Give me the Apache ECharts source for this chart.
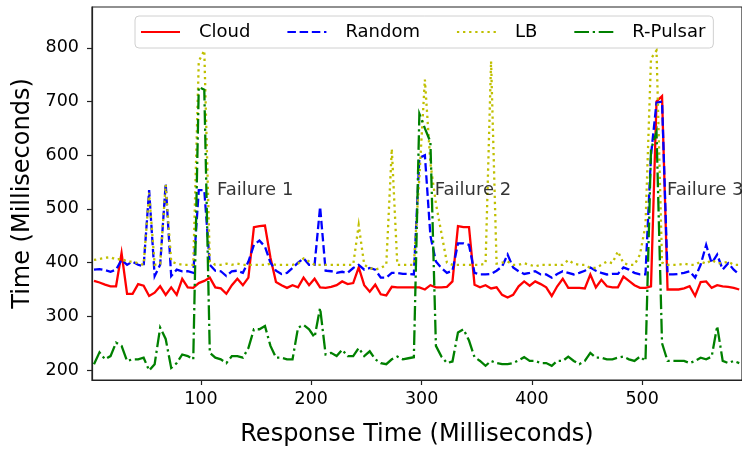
<!DOCTYPE html>
<html><head><meta charset="utf-8">
<script src="https://cdn.jsdelivr.net/npm/echarts@6/dist/echarts.min.js"></script>
<style>html,body{margin:0;padding:0;background:#fff}#c{width:742px;height:452px}</style>
</head><body><div id="c"></div>
<script>
var xs = [3,8,13,18,23,28,33,38,43,48,
53,58,63,68,73,78,83,88,93,98,
103,108,113,118,123,128,133,138,143,148,
153,158,163,168,173,178,183,188,193,198,
203,208,213,218,223,228,233,238,243,248,
253,258,263,268,273,278,283,288,293,298,
303,308,313,318,323,328,333,338,343,348,
353,358,363,368,373,378,383,388,393,398,
403,408,413,418,423,428,433,438,443,448,
453,458,463,468,473,478,483,488,493,498,
503,508,513,518,523,528,533,538,543,548,
553,558,563,568,573,578,583,588];

var cloud = [366,363,359,356,356,418,342,342,360,357,
338,344,356,340,354,340,370,354,353,362,
366,372,354,352,342,358,370,358,372,466,
468,469,409,364,358,353,358,354,372,358,
370,354,353,355,358,365,360,362,391,358,
346,359,341,339,355,354,354,354,354,354,
350,358,354,354,355,365,468,466,466,359,
354,358,352,354,340,335,340,356,365,357,
365,360,354,338,356,370,353,353,353,352,
378,354,368,356,354,354,374,366,358,353,
353,356,700,710,350,350,350,352,356,338,
364,365,353,358,356,355,353,350];

var random = [387,388,386,383,387,405,396,402,396,393,
535,375,396,547,375,387,384,384,381,535,
535,396,385,384,375,384,385,381,402,433,
441,430,400,385,379,381,390,400,408,396,
396,504,385,384,381,383,381,390,396,387,
390,387,372,372,381,381,379,379,378,595,
600,450,402,390,381,385,436,436,433,381,
378,378,379,385,393,415,391,384,379,381,
384,378,378,372,379,384,381,378,381,385,
391,385,381,378,379,379,391,387,381,378,
378,600,698,700,378,378,379,381,384,372,
396,433,399,415,387,399,387,378];

var lb = [405,407,409,410,406,407,402,402,399,396,
530,396,398,545,402,398,396,396,396,775,
795,402,396,396,398,396,398,396,396,396,
396,396,398,396,396,396,396,398,408,402,
396,396,396,396,396,396,396,396,470,396,
390,387,390,396,612,396,396,396,396,560,
741,585,510,455,400,396,396,396,396,396,
396,398,775,398,400,402,396,396,399,396,
393,396,396,396,396,396,405,398,396,396,
390,390,396,402,399,421,399,396,396,415,
470,780,795,400,396,396,396,398,396,396,
402,398,405,399,399,402,396,396];

var pulsar = [211,233,220,226,251,245,217,220,220,223,
199,211,279,258,204,213,229,226,220,727,
722,232,223,220,213,226,226,223,241,276,
276,282,245,223,223,220,220,279,284,276,
261,316,229,232,226,238,226,226,241,226,
235,220,213,211,220,225,220,222,224,677,
650,625,245,225,213,216,270,276,255,224,
217,208,217,213,211,211,213,218,224,217,
217,213,213,208,217,217,225,217,211,217,
232,223,223,220,220,223,225,220,217,225,
217,611,643,250,217,217,217,217,213,217,
223,220,225,282,217,213,217,213];

var seriesNames = ['Cloud','Random','LB','R-Pulsar'];
var xTicks = [100,200,300,400,500];
var yTicks = [200,300,400,500,600,700,800];
var failX = [114.5,312,522.5];
var failY = [534,534,534];
var failText = ['Failure 1','Failure 2','Failure 3'];

function pairs(v){ var o=[]; for(var i=0;i<xs.length;i++) o.push([xs[i], v[i]]); return o; }
var font = 'DejaVu Sans';
var lw = 2.3;
function lineSeries(name, data, color, type){
  return {name:name, type:'line', data:pairs(data), symbol:'none', showSymbol:false,
    lineStyle:{color:color, width:lw, type:type, cap:'butt', join:'miter'},
    itemStyle:{color:color}, animation:false, z:2};
}
var failData = [];
for (var i=0;i<failX.length;i++) failData.push({value:[failX[i], failY[i]], name:failText[i]});

var chart = echarts.init(document.getElementById('c'), null, {renderer:'canvas'});
chart.setOption({
  animation:false,
  textStyle:{fontFamily:font},
  grid:{left:92, right:0, top:7, bottom:69, show:true, borderColor:'#222', borderWidth:1.2, backgroundColor:'#fff'},
  legend:{
    data:seriesNames, left:135, top:16, orient:'horizontal',
    padding:[7,8,7,5], itemGap:36, itemWidth:39, itemHeight:14,
    itemStyle:{opacity:0},
    borderColor:'#d0d0d0', borderWidth:1, borderRadius:4, backgroundColor:'rgba(255,255,255,0.85)',
    formatter:function(n){ return '{g|}{t|'+n+'}'; },
    textStyle:{fontFamily:font, fontSize:18, color:'#000', rich:{g:{width:14}, t:{fontFamily:font, fontSize:18, color:'#000'}}}
  },
  xAxis:{type:'value', min:1.2, max:590.5,
    name:'Response Time (Milliseconds)', nameLocation:'middle', nameGap:43,
    nameTextStyle:{fontFamily:font, fontSize:24, color:'#000'},
    axisLine:{show:true, onZero:false, lineStyle:{color:'#222', width:1.2}},
    axisTick:{show:true, inside:false, length:5, customValues:xTicks, lineStyle:{color:'#222', width:1.2}},
    axisLabel:{show:true, customValues:xTicks, margin:10, fontFamily:font, fontSize:17.5, color:'#000'},
    splitLine:{show:false}
  },
  yAxis:{type:'value', min:181.5, max:876,
    name:'Time (Milliseconds)', nameLocation:'middle', nameGap:53, nameRotate:90,
    nameTextStyle:{fontFamily:font, fontSize:24, color:'#000'},
    axisLine:{show:true, onZero:false, lineStyle:{color:'#222', width:1.2}},
    axisTick:{show:true, inside:false, length:5, customValues:yTicks, lineStyle:{color:'#222', width:1.2}},
    axisLabel:{show:true, customValues:yTicks, margin:13, fontFamily:font, fontSize:17.5, color:'#000'},
    splitLine:{show:false}
  },
  series:[
    lineSeries('Cloud', cloud, '#ff0000', 'solid'),
    lineSeries('Random', random, '#0000ff', [8.5,3.7]),
    lineSeries('LB', lb, '#bfbf00', [2.3,3.8]),
    lineSeries('R-Pulsar', pulsar, '#008000', [14.7,3.7,2.3,3.7]),
    {name:'failures', type:'scatter', data:failData, symbolSize:0, z:5, silent:true,
      label:{show:true, position:'right', distance:0, formatter:'{b}', fontFamily:font, fontSize:18, color:'#000'}}
  ]
});
</script></body></html>
